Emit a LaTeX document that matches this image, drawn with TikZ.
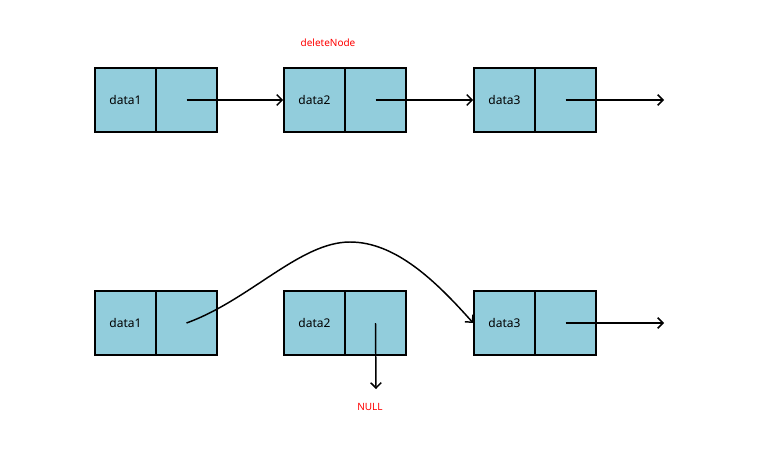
\documentclass[tikz,border=0pt]{standalone}
\usepackage{fontspec}
\setmainfont{Noto Sans}
\usetikzlibrary{arrows.meta}
\definecolor{cellfill}{HTML}{92CDDC}
\definecolor{notered}{HTML}{FF0000}
\begin{document}
\begin{tikzpicture}[x=0.75pt,y=-0.75pt,
  datacell/.style={draw=black,line width=1.3pt,fill=cellfill,minimum width=45.75pt,minimum height=48pt,inner sep=0pt,font=\fontsize{9}{10}\selectfont},
  ptrcell/.style={datacell},
  link/.style={line width=1.1pt,-{Straight Barb[length=4pt,width=8pt,line width=1.1pt]}},
  redtext/.style={text=notered,font=\fontsize{7.5}{9}\selectfont}]
\useasboundingbox (0,0) rectangle (766,450);
% upper list
\node[datacell] (a1) at (125.5,100) {data1};
\node[ptrcell]  (b1) at (186.5,100) {};
\node[datacell] (a2) at (314.5,100) {data2};
\node[ptrcell]  (b2) at (375.5,100) {};
\node[datacell] (a3) at (504.5,100) {data3};
\node[ptrcell]  (b3) at (565.5,100) {};
\coordinate (e1) at (664,100);
\node[redtext] (del) at (328,43) {deleteNode};
\draw[link] (b1.center) -- (a2.west);
\draw[link] (b2.center) -- (a3.west);
\draw[link] (b3.center) -- (e1);
% lower list after removal
\node[datacell] (c1) at (125.5,323) {data1};
\node[ptrcell]  (f1) at (186.5,323) {};
\node[datacell] (c2) at (314.5,323) {data2};
\node[ptrcell]  (f2) at (375.5,323) {};
\node[datacell] (c3) at (504.5,323) {data3};
\node[ptrcell]  (f3) at (565.5,323) {};
\coordinate (e2) at (664,323);
\coordinate (top) at (350,242);
\node[redtext] (nul) at (370,407) {NULL};
\draw[link] (f1.center) .. controls (250,300) and (300,242) .. (top) .. controls (395,242) and (435,280) .. (c3.west);
\draw[link] (f2.center) -- (376,389);
\draw[link] (f3.center) -- (e2);
\end{tikzpicture}
\end{document}
